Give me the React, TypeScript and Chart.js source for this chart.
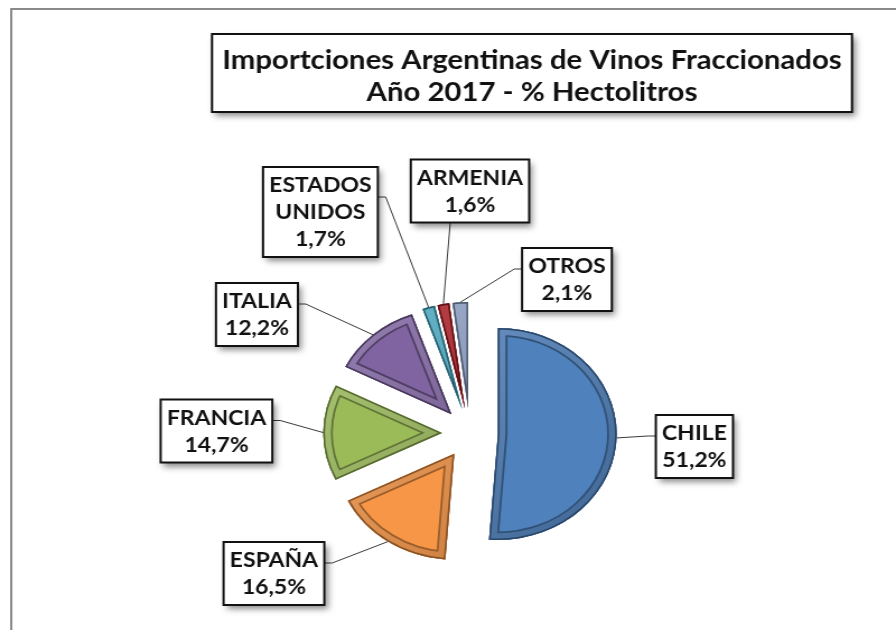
import React, { useEffect, useRef } from 'react';
import { Chart, registerables } from 'chart.js';

Chart.register(...registerables);

// ---------------- data ----------------
const categories = ['CHILE', 'ESPAÑA', 'FRANCIA', 'ITALIA', 'ESTADOS UNIDOS', 'ARMENIA', 'OTROS'];
const labelNames = [['CHILE'], ['ESPAÑA'], ['FRANCIA'], ['ITALIA'], ['ESTADOS', 'UNIDOS'], ['ARMENIA'], ['OTROS']];
const shares = [51.2, 16.5, 14.7, 12.2, 1.7, 1.6, 2.1];
const sliceColors = ['#4F81BD', '#F79646', '#9BBB59', '#8064A2', '#4BACC6', '#B01E26', '#8FA1C8'];
const titleLines = ['Importciones Argentinas de Vinos Fraccionados', 'Año 2017 - % Hectolitros'];

// ---------------- layout ----------------
const CANVAS_W = 800;
const CANVAS_H = 630;
const DISPLAY_W = 896;
const PIE_R = 106;
const EXPLODE = 25;
const PAD = { left: 39.2, right: 0, top: 236, bottom: 0 };
const labelLayout: { dx: number; dy: number; side: 'left' | 'right' | 'bottom' }[] = [
  { dx: 200.4, dy: 13.5, side: 'left' },
  { dx: -175, dy: 140.5, side: 'right' },
  { dx: -226.3, dy: -2, side: 'right' },
  { dx: -190.2, dy: -118.5, side: 'right' },
  { dx: -133.5, dy: -221, side: 'right' },
  { dx: 0, dy: -242, side: 'bottom' },
  { dx: 86.6, dy: -153.5, side: 'left' },
];
const TITLE_BOX = { left: 189.3, top: 34, width: 571.4, height: 78 };
const LABEL_FONT = 'bold 20.5px Lato';
const TITLE_FONT = 'bold 26.2px Lato';

const pct = (v: number) => v.toFixed(1).replace('.', ',') + '%';

function shade(hex: string, amt: number): string {
  const n = parseInt(hex.slice(1), 16);
  let r = (n >> 16) & 255, g = (n >> 8) & 255, b = n & 255;
  const t = amt < 0 ? 0 : 255;
  const p = Math.abs(amt);
  r = Math.round(r + (t - r) * p);
  g = Math.round(g + (t - g) * p);
  b = Math.round(b + (t - b) * p);
  return `rgb(${r},${g},${b})`;
}

function drawShadowBox(ctx: CanvasRenderingContext2D, x: number, y: number, w: number, h: number) {
  ctx.save();
  ctx.shadowColor = 'rgba(0,0,0,0.45)';
  ctx.shadowBlur = 6;
  ctx.shadowOffsetX = 3;
  ctx.shadowOffsetY = 4;
  ctx.fillStyle = '#ffffff';
  ctx.fillRect(x, y, w, h);
  ctx.restore();
  ctx.save();
  ctx.lineWidth = 2;
  ctx.strokeStyle = '#111111';
  ctx.strokeRect(x, y, w, h);
  ctx.restore();
}

const explodePlugin = {
  id: 'explodeBevel',
  beforeDraw(chart: any) {
    const ctx = chart.ctx as CanvasRenderingContext2D;
    ctx.save();
    ctx.fillStyle = '#ffffff';
    ctx.fillRect(0, 0, chart.width, chart.height);
    ctx.strokeStyle = '#8a8a8a';
    ctx.lineWidth = 2;
    ctx.beginPath();
    ctx.moveTo(10, chart.height + 5);
    ctx.lineTo(10, 9);
    ctx.lineTo(chart.width + 5, 9);
    ctx.stroke();
    ctx.restore();
  },
  beforeDatasetsDraw(chart: any) {
    const meta = chart.getDatasetMeta(0);
    meta.data.forEach((el: any) => {
      const h = (el.startAngle + el.endAngle) / 2;
      el.$orig = [el.x, el.y];
      el.x = el.x + Math.cos(h) * EXPLODE;
      el.y = el.y + Math.sin(h) * EXPLODE;
    });
  },
  afterDatasetDraw(chart: any, args: any) {
    const ctx = chart.ctx as CanvasRenderingContext2D;
    args.meta.data.forEach((el: any, i: number) => {
      const { x, y, startAngle, endAngle, outerRadius } = el;
      const base = sliceColors[i];
      const path = new Path2D();
      path.moveTo(x, y);
      path.arc(x, y, outerRadius, startAngle, endAngle);
      path.closePath();
      ctx.save();
      ctx.clip(path);
      ctx.lineJoin = 'miter';
      ctx.lineWidth = 17;
      ctx.strokeStyle = shade(base, -0.38);
      ctx.stroke(path);
      const g = ctx.createLinearGradient(x - outerRadius, y - outerRadius, x + outerRadius, y + outerRadius);
      g.addColorStop(0, shade(base, 0.18));
      g.addColorStop(1, shade(base, -0.22));
      ctx.lineWidth = 13.5;
      ctx.strokeStyle = g;
      ctx.stroke(path);
      ctx.lineWidth = 3;
      ctx.strokeStyle = shade(base, -0.45);
      ctx.stroke(path);
      ctx.restore();
    });
  },
  afterDatasetsDraw(chart: any) {
    const meta = chart.getDatasetMeta(0);
    meta.data.forEach((el: any) => {
      if (el.$orig) {
        el.x = el.$orig[0];
        el.y = el.$orig[1];
      }
    });
  },
  afterDraw(chart: any) {
    const ctx = chart.ctx as CanvasRenderingContext2D;
    const meta = chart.getDatasetMeta(0);
    ctx.save();
    ctx.font = LABEL_FONT;
    meta.data.forEach((el: any, i: number) => {
      const h = (el.startAngle + el.endAngle) / 2;
      const cx = el.x + Math.cos(h) * EXPLODE;
      const cy = el.y + Math.sin(h) * EXPLODE;
      const px = cx + Math.cos(h) * el.outerRadius;
      const py = cy + Math.sin(h) * el.outerRadius;
      const lines = [...labelNames[i], pct(shares[i])];
      const lay = labelLayout[i];
      const w = Math.max(...lines.map((l) => ctx.measureText(l).width)) + 11;
      const bh = lines.length * 27 + 9;
      const bx = el.x + lay.dx - w / 2;
      const by = el.y + lay.dy - bh / 2;
      ctx.save();
      ctx.strokeStyle = '#3a3a3a';
      ctx.lineWidth = 1;
      ctx.beginPath();
      if (lay.side === 'left') {
        const ay = by + bh / 3;
        ctx.moveTo(bx, ay);
        ctx.lineTo(bx - 7, ay);
      } else if (lay.side === 'right') {
        const ay = by + bh / 3;
        ctx.moveTo(bx + w, ay);
        ctx.lineTo(bx + w + 7, ay);
      } else {
        ctx.moveTo(bx + w / 3, by + bh);
      }
      ctx.lineTo(px, py);
      ctx.stroke();
      ctx.restore();
      drawShadowBox(ctx, bx, by, w, bh);
      ctx.fillStyle = '#111111';
      ctx.textAlign = 'center';
      ctx.textBaseline = 'alphabetic';
      const mid = by + bh / 2;
      lines.forEach((l, k) => {
        const lc = mid + (k - (lines.length - 1) / 2) * 27;
        ctx.fillText(l, bx + w / 2, lc + 7.3);
      });
    });
    const tb = TITLE_BOX;
    drawShadowBox(ctx, tb.left, tb.top, tb.width, tb.height);
    ctx.font = TITLE_FONT;
    ctx.fillStyle = '#111111';
    ctx.textAlign = 'center';
    ctx.textBaseline = 'alphabetic';
    ctx.fillText(titleLines[0], tb.left + tb.width / 2, tb.top + 34.5);
    ctx.fillText(titleLines[1], tb.left + tb.width / 2, tb.top + 66.5);
    ctx.restore();
  },
};

export default function App() {
  const ref = useRef<HTMLCanvasElement>(null);
  useEffect(() => {
    const chart = new Chart(ref.current as HTMLCanvasElement, {
      type: 'pie',
      data: {
        labels: categories,
        datasets: [
          {
            data: shares,
            backgroundColor: sliceColors,
            borderWidth: 0,
            radius: PIE_R,
          } as any,
        ],
      },
      options: {
        responsive: false,
        animation: false,
        devicePixelRatio: 1,
        events: [],
        layout: { padding: PAD },
        plugins: {
          legend: { display: false },
          tooltip: { enabled: false },
          title: { display: false },
        },
      },
      plugins: [explodePlugin],
    });
    return () => chart.destroy();
  }, []);
  return (
    <div style={{ position: 'absolute', left: 0, top: 0, width: DISPLAY_W, height: CANVAS_H, background: '#fff' }}>
      <canvas
        ref={ref}
        width={CANVAS_W}
        height={CANVAS_H}
        style={{ width: DISPLAY_W + 'px', height: CANVAS_H + 'px', display: 'block' }}
      />
    </div>
  );
}
